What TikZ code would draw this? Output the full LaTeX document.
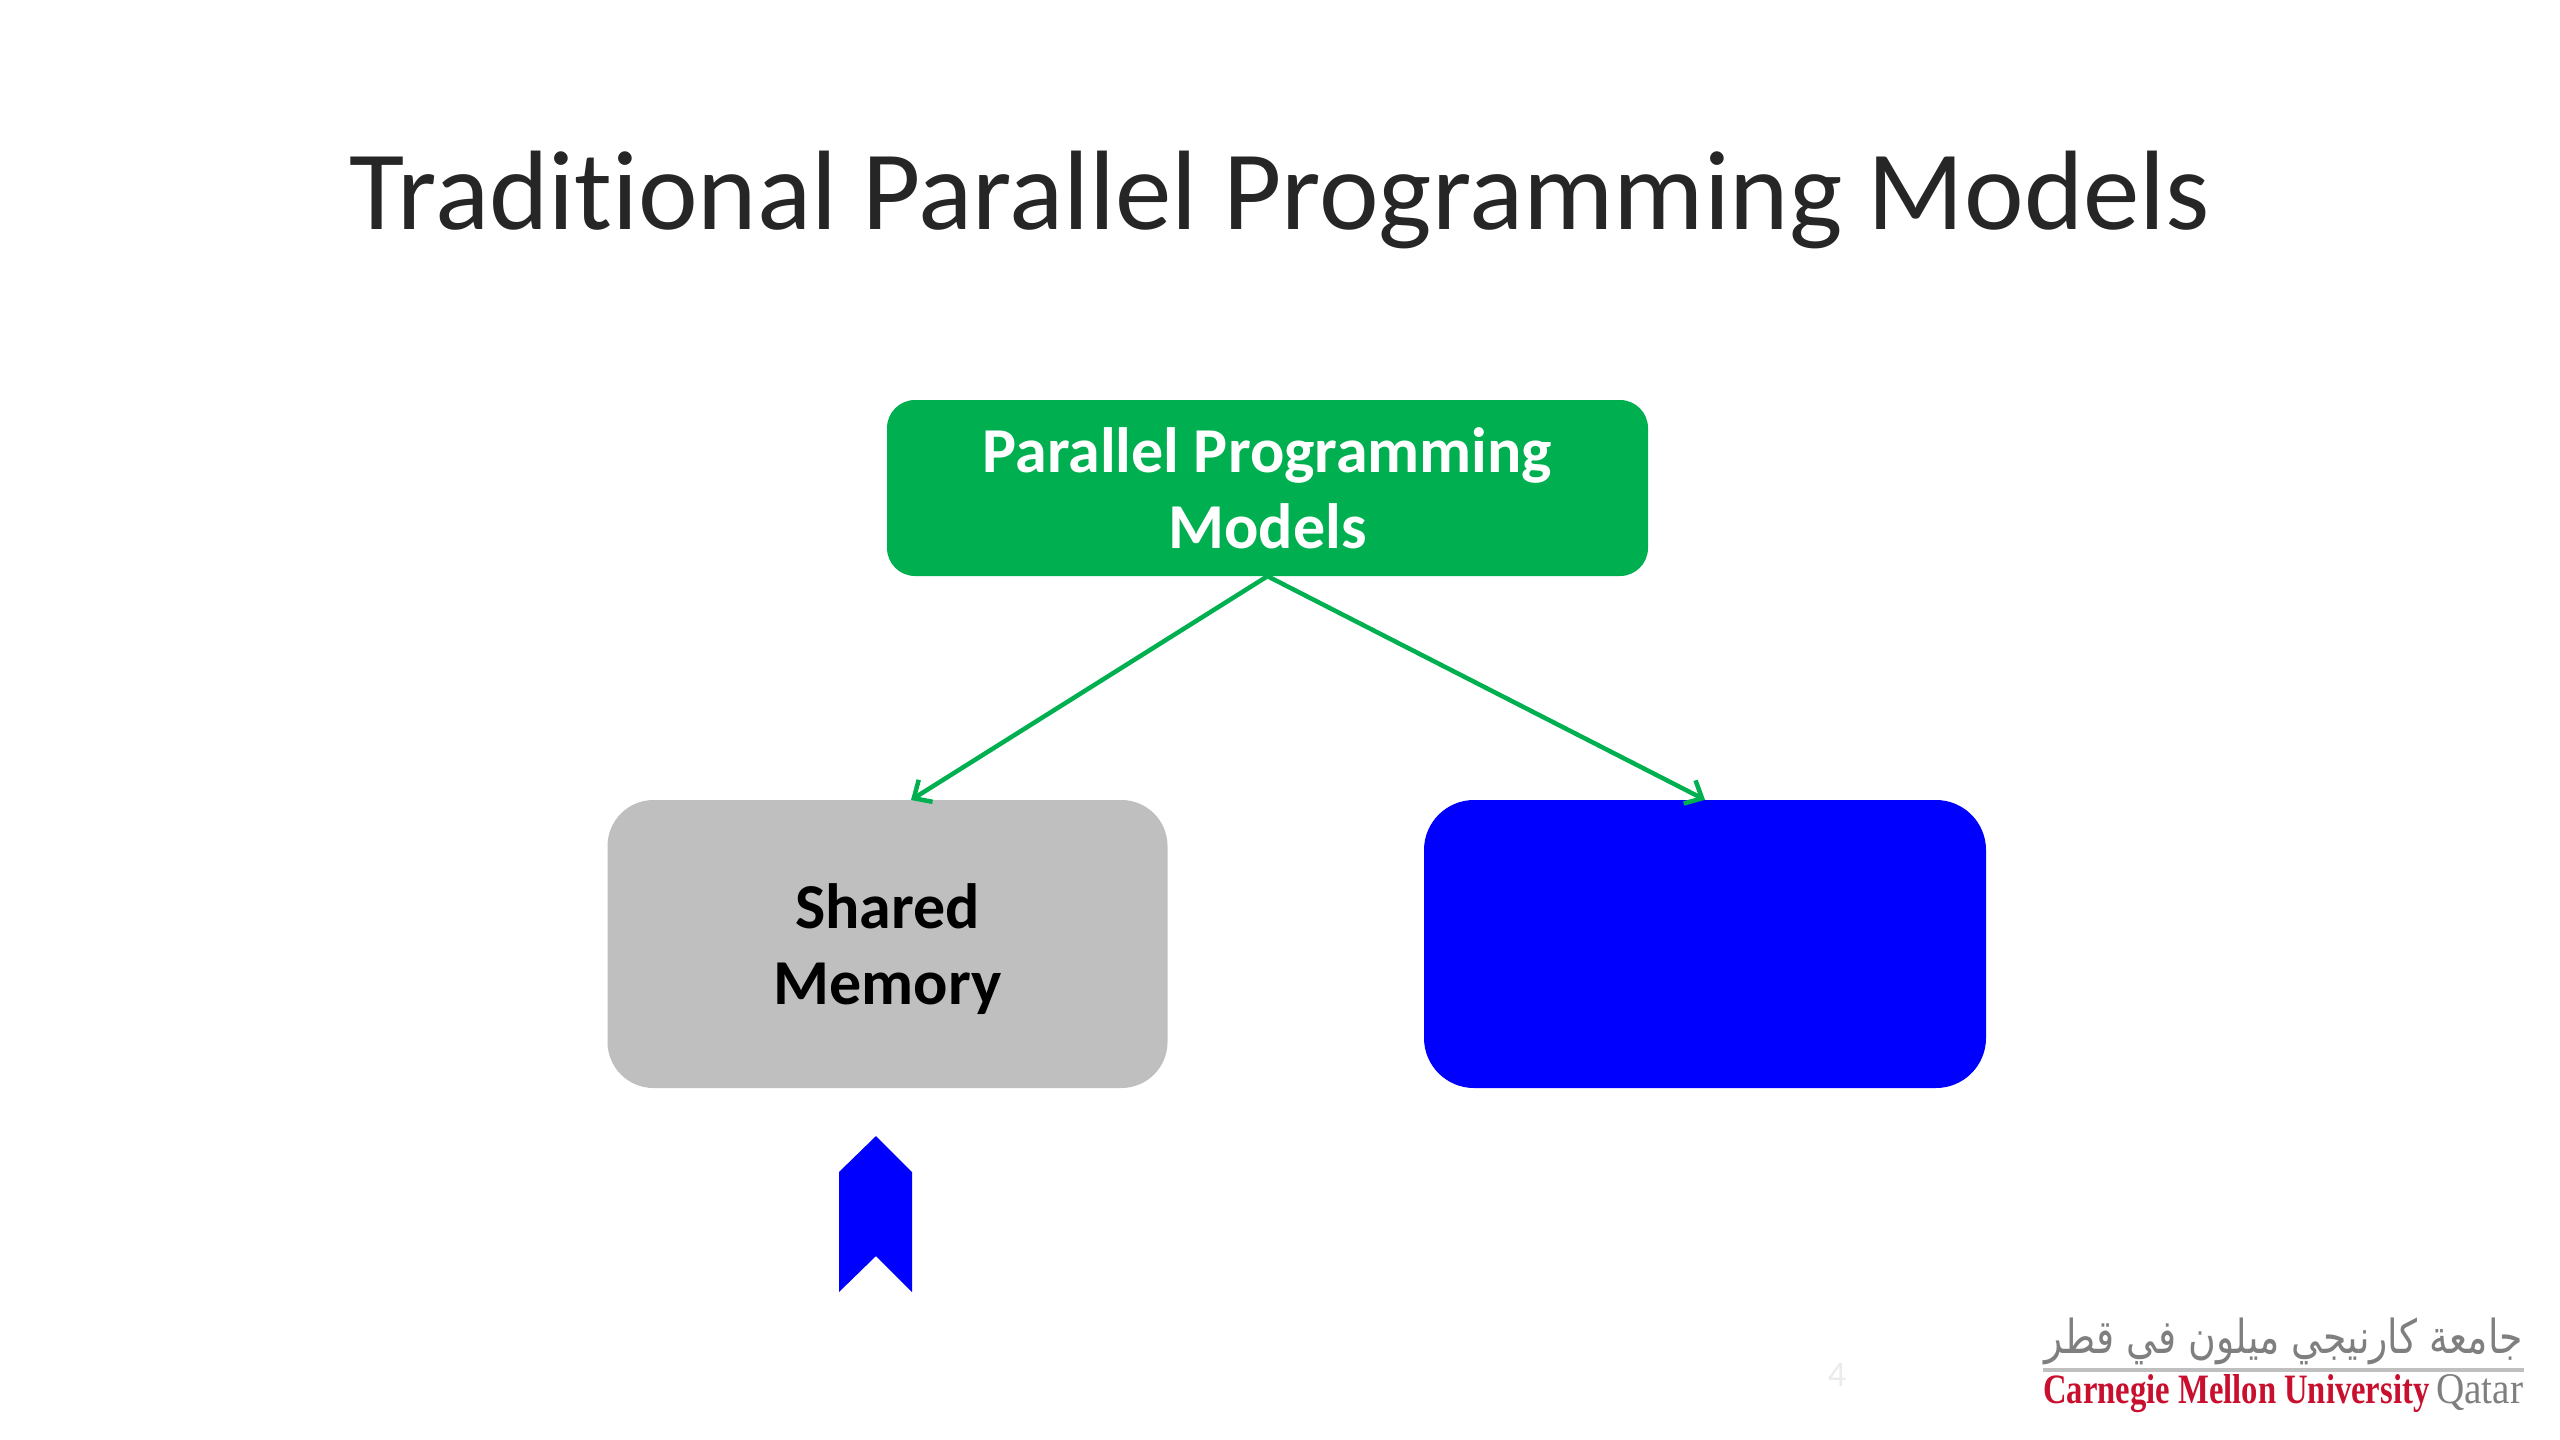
\documentclass[tikz,border=0pt]{standalone}
\usepackage{graphicx}
\usepackage{fontspec}
\setmainfont[Ligatures=NoCommon]{Carlito}
\newfontfamily\arabicfont[Script=Arabic]{DejaVu Sans}
\newfontfamily\logofont{Liberation Serif}
\TeXXeTstate=1
\usetikzlibrary{arrows.meta}
\definecolor{boxgreen}{HTML}{00B050}
\definecolor{boxgray}{HTML}{BFBFBF}
\definecolor{boxblue}{HTML}{0000FF}
\definecolor{logored}{HTML}{C8102E}
\definecolor{logogray}{HTML}{7F7F7F}
\tikzset{
  box/.style={rounded corners=46pt,inner sep=0pt,align=center,text depth=0pt,font=\fontsize{64}{76}\selectfont\bfseries},
  link/.style={draw=boxgreen,line width=4.5pt,-{Straight Barb[length=14pt,width=26pt]}}
}
\begin{document}
\begin{tikzpicture}[x=1pt,y=-1pt]
\useasboundingbox (0,0) rectangle (2560,1440);

\node[font=\fontsize{113}{136}\selectfont,text=black!85] (title) at (1280,200) {Traditional Parallel Programming Models};

\node[box,fill=boxgreen,text=white,rounded corners=28pt,minimum width=761pt,minimum height=176pt] (parallel) at (1267.5,488) {Parallel Programming\\Models};
\node[box,fill=boxgray,text=black,minimum width=560pt,minimum height=288pt] (shared) at (887.5,944) {Shared\\Memory};
\node[box,fill=boxblue,rounded corners=50pt,minimum width=562pt,minimum height=288pt] (other) at (1705,944) {};

\coordinate (sharedtop) at (911,800);
\path[link] (parallel.south) -- (sharedtop);
\path[link] (parallel.south) -- (other.north);

% ribbon marker under the left box
\fill[boxblue] (839,1172) -- (876,1136) -- (912,1172) -- (912,1292) -- (876,1256) -- (839,1292) -- cycle;

\node[font=\fontsize{36}{40}\selectfont,text=black!8] (pagenum) at (1837,1375) {4};

% logo
\node[inner sep=0pt,text=logogray] (logoarabic) at (2284,1341) {\resizebox*{478pt}{47pt}{\arabicfont\beginR جامعة كارنيجي ميلون في قطر\endR}};
\draw[boxgray,line width=4pt] (2043,1370) -- (2524,1370);
\node[inner sep=0pt,anchor=base west,text=logored] (logocmu) at (2043,1403) {\resizebox{386pt}{29pt}{\logofont\bfseries Carnegie Mellon University}};
\node[inner sep=0pt,anchor=base west,text=logogray] (logoqatar) at (2436,1403) {\resizebox{87pt}{29pt}{\logofont Qatar}};
\end{tikzpicture}
\end{document}
